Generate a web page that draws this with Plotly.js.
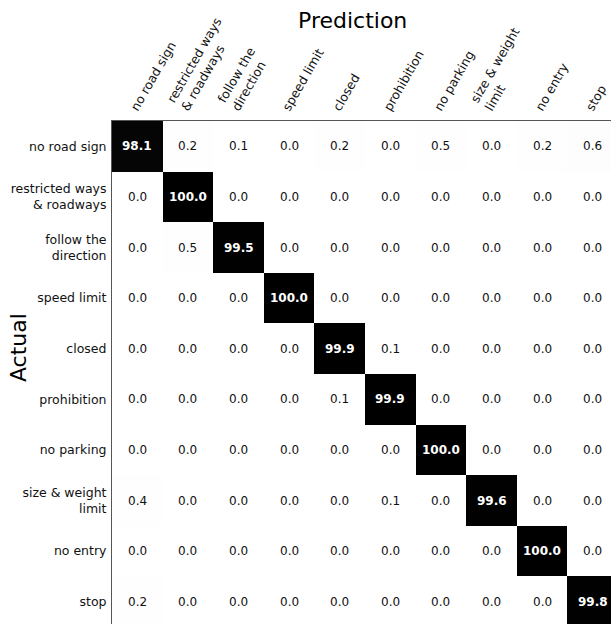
<!DOCTYPE html>
<html>
<head>
<meta charset="utf-8">
<script src="https://cdn.plot.ly/plotly-3.0.1.min.js"></script>
<style>
html,body{margin:0;padding:0;overflow:hidden;background:#fff;}
#chart{width:618px;height:627px;}
</style>
</head>
<body>
<div id="chart"></div>
<script>
const predLabels = ["no road sign","restricted ways<br>& roadways","follow the<br>direction","speed limit","closed","prohibition","no parking","size & weight<br>limit","no entry","stop"];
const actualLabels = ["no road sign","restricted ways<br>& roadways","follow the<br>direction","speed limit","closed","prohibition","no parking","size & weight<br>limit","no entry","stop"];
const row0 = [98.1,0.2,0.1,0.0,0.2,0.0,0.5,0.0,0.2,0.6];
const row1 = [0.0,100.0,0.0,0.0,0.0,0.0,0.0,0.0,0.0,0.0];
const row2 = [0.0,0.5,99.5,0.0,0.0,0.0,0.0,0.0,0.0,0.0];
const row3 = [0.0,0.0,0.0,100.0,0.0,0.0,0.0,0.0,0.0,0.0];
const row4 = [0.0,0.0,0.0,0.0,99.9,0.1,0.0,0.0,0.0,0.0];
const row5 = [0.0,0.0,0.0,0.0,0.1,99.9,0.0,0.0,0.0,0.0];
const row6 = [0.0,0.0,0.0,0.0,0.0,0.0,100.0,0.0,0.0,0.0];
const row7 = [0.4,0.0,0.0,0.0,0.0,0.1,0.0,99.6,0.0,0.0];
const row8 = [0.0,0.0,0.0,0.0,0.0,0.0,0.0,0.0,100.0,0.0];
const row9 = [0.2,0.0,0.0,0.0,0.0,0.0,0.0,0.0,0.0,99.8];
const z = [row0,row1,row2,row3,row4,row5,row6,row7,row8,row9];

const xs = predLabels.map((_,i)=>i);
const ys = actualLabels.map((_,i)=>i);
const font = "DejaVu Sans, sans-serif";

const annotations = [];
z.forEach((row,r)=>row.forEach((v,c)=>{
  const dark = v > 50;
  annotations.push({x:c,y:r,xref:'x',yref:'y',text:dark?'<b>'+v.toFixed(1)+'</b>':v.toFixed(1),
    showarrow:false,font:{family:font,size:12,color:dark?'#ffffff':'#111111'}});
}));
annotations.push({text:'Prediction',xref:'paper',yref:'paper',x:0.476,y:1.1977,xanchor:'center',yanchor:'middle',showarrow:false,font:{family:font,size:22,color:'#000'}});
annotations.push({text:'Actual',xref:'paper',yref:'paper',x:-0.186,y:0.553,xanchor:'center',yanchor:'middle',textangle:-90,showarrow:false,font:{family:font,size:22,color:'#000'}});

const data = [{
  type:'heatmap', z:z, x:xs, y:ys,
  colorscale:[[0,'#ffffff'],[1,'#000000']], zmin:0, zmax:100,
  showscale:false, hoverinfo:'skip'
}];
const layout = {
  width:618, height:627,
  margin:{l:112,r:0,t:121,b:0,pad:0},
  paper_bgcolor:'#fff', plot_bgcolor:'#fff',
  font:{family:font,size:12.5,color:'#111'},
  xaxis:{side:'top',tickvals:xs,ticktext:predLabels,tickangle:-60,range:[-0.5,9.5],
    ticklabelshift:-5,
    showgrid:false,zeroline:false,showline:true,linecolor:'#555',linewidth:1,ticks:'',
    tickfont:{family:font,size:12.5,color:'#111'},fixedrange:true},
  yaxis:{tickvals:ys,ticktext:actualLabels,range:[9.5,-0.5],
    ticklabelstandoff:2,
    showgrid:false,zeroline:false,showline:true,linecolor:'#555',linewidth:1,ticks:'',
    tickfont:{family:font,size:12.5,color:'#111'},fixedrange:true},
  annotations:annotations,
  showlegend:false
};
Plotly.newPlot('chart',data,layout,{displayModeBar:false,staticPlot:true});
</script>
</body>
</html>
